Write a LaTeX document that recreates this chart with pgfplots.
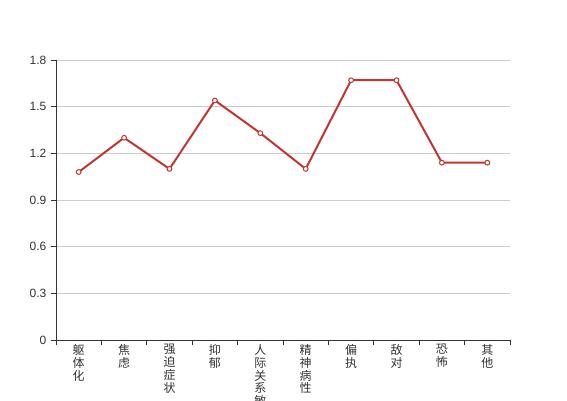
\documentclass[border=0pt]{standalone}
\usepackage{pgfplots}
\pgfplotsset{compat=1.18}
\usepackage{fontspec}
\setmainfont{Liberation Sans}
\newfontfamily\cjk{Noto Sans CJK SC}
\definecolor{lineRed}{HTML}{C23531}
\definecolor{gridGray}{HTML}{CCCCCC}
\definecolor{axisGray}{HTML}{333333}
\begin{document}
\begin{tikzpicture}
\begin{axis}[
  name=main,
  scale only axis,
  width=340.5pt, height=210pt,
  xmin=-0.5, xmax=9.5, ymin=0, ymax=1.8,
  axis x line*=bottom, axis y line*=left,
  axis line style={axisGray, line width=0.75pt},
  xtick={0,...,9},
  xticklabels={{躯\\体\\化},{焦\\虑},{强\\迫\\症\\状},{抑\\郁},{人\\际\\关\\系\\敏\\感},{精\\神\\病\\性},{偏\\执},{敌\\对},{恐\\怖},{其\\他}},
  major x tick style={draw=none},
  minor xtick={-0.5,0.5,...,9.5},
  minor x tick style={axisGray, line width=0.75pt},
  minor tick length=3.75pt,
  x tick label style={font=\cjk\fontsize{9}{9.6}\selectfont, text=axisGray, align=center, anchor=north, yshift=4pt},
  ytick={0,0.3,0.6,0.9,1.2,1.5,1.8},
  yticklabels={0,0.3,0.6,0.9,1.2,1.5,1.8},
  y tick label style={font=\fontsize{9}{10}\selectfont, text=axisGray},
  y tick style={axisGray, line width=0.75pt},
  major tick length=3.75pt,
  tick align=outside,
  ymajorgrids,
  grid style={gridGray, line width=0.75pt},
  clip=false,
]
\addplot[lineRed, line width=1.5pt, mark=*, mark size=1.8pt,
  mark options={fill=white, draw=lineRed, line width=0.75pt}]
coordinates {(0,1.08) (1,1.30) (2,1.10) (3,1.54) (4,1.33) (5,1.10) (6,1.67) (7,1.67) (8,1.14) (9,1.14)};
\end{axis}
\pgfresetboundingbox
\path[use as bounding box] ([xshift=-42pt, yshift=-45pt]main.south west) rectangle ++(425.25pt,300pt);
\end{tikzpicture}
\end{document}
